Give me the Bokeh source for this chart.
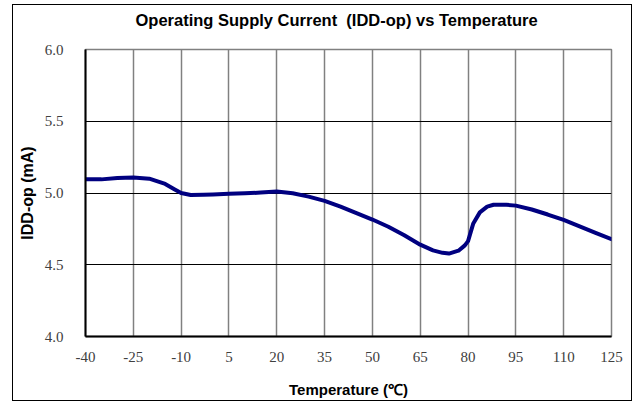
from bokeh.plotting import figure
from bokeh.models import FixedTicker, NumeralTickFormatter, Range1d, Title
from bokeh.embed import file_html
from bokeh.resources import INLINE

# Data
temperature = [-40, -35, -30, -25, -20, -15, -12, -10, -7, -3, 0, 5, 10, 15, 20, 25, 30,
               35, 40, 45, 50, 55, 60, 65, 69, 72, 74, 77, 79, 80, 81.6, 83.7, 86, 88,
               92, 95, 100, 105, 110, 115, 120, 125]
idd_op = [5.095, 5.095, 5.105, 5.108, 5.100, 5.063, 5.025, 5.000, 4.986, 4.988, 4.990,
          4.995, 4.998, 5.003, 5.010, 4.998, 4.975, 4.945, 4.905, 4.860, 4.815, 4.765,
          4.705, 4.640, 4.600, 4.583, 4.578, 4.598, 4.635, 4.665, 4.785, 4.865, 4.905,
          4.918, 4.918, 4.912, 4.885, 4.850, 4.812, 4.768, 4.722, 4.678]
x_ticks = [-40, -25, -10, 5, 20, 35, 50, 65, 80, 95, 110, 125]
x_tick_labels = ["-40", "-25", "-10", "5", "20", "35", "50", "65", "80", "95", "110", "125"]
y_ticks = [4.0, 4.5, 5.0, 5.5, 6.0]

p = figure(width=620, height=397, output_backend="svg", toolbar_location=None,
           x_range=Range1d(-40, 125), y_range=Range1d(4.0, 6.0),
           min_border_left=72, min_border_right=22, min_border_top=44, min_border_bottom=66)

# spacer between frame and title, then the title itself (further from the frame)
p.add_layout(Title(text="\u00a0", text_font_size="1px", standoff=17), "above")
p.add_layout(Title(text="Operating Supply Current \u00a0(IDD-op) vs Temperature",
                   align="left", offset=50, standoff=2,
                   text_font="Liberation Sans", text_font_size="16.5px",
                   text_font_style="bold", text_color="#000000"), "above")

p.line(temperature, idd_op, line_color="#000080", line_width=4, line_join="round", line_cap="round")

p.xaxis.ticker = FixedTicker(ticks=x_ticks)
p.xaxis.major_label_overrides = dict(zip(x_ticks, x_tick_labels))
p.yaxis.ticker = FixedTicker(ticks=y_ticks)
p.yaxis.formatter = NumeralTickFormatter(format="0.0")

for ax in (p.xaxis[0], p.yaxis[0]):
    ax.major_tick_in = 0
    ax.major_tick_out = 0
    ax.minor_tick_in = 0
    ax.minor_tick_out = 0
    ax.axis_line_color = "#000000"
    ax.axis_line_width = 2
    ax.major_label_text_font = "Liberation Serif"
    ax.major_label_text_font_size = "15px"
    ax.major_label_text_color = "#404040"
    ax.axis_label_text_font = "Liberation Sans"
    ax.axis_label_text_font_style = "bold"
    ax.axis_label_text_color = "#000000"

p.xaxis.axis_label = "Temperature (℃)"
p.xaxis.axis_label_text_font_size = "15px"
p.xaxis.major_label_standoff = 15
p.xaxis.axis_label_standoff = 16

p.yaxis.axis_label = "IDD-op (mA)"
p.yaxis.axis_label_text_font_size = "16px"
p.yaxis.major_label_standoff = 22
p.yaxis.axis_label_standoff = 6

p.xgrid.ticker = FixedTicker(ticks=x_ticks)
p.ygrid.ticker = FixedTicker(ticks=y_ticks)
p.xgrid.grid_line_color = "#808080"
p.xgrid.grid_line_width = 1.5
p.ygrid.grid_line_color = "#000000"
p.ygrid.grid_line_width = 1

p.outline_line_color = "#808080"
p.outline_line_width = 1.5
p.background_fill_color = "#ffffff"
p.border_fill_color = "#ffffff"
p.styles = {"border": "1px solid #000000", "box-sizing": "border-box",
            "margin-left": "12px", "margin-top": "4px"}

open("out.html", "w").write(file_html(p, INLINE))
